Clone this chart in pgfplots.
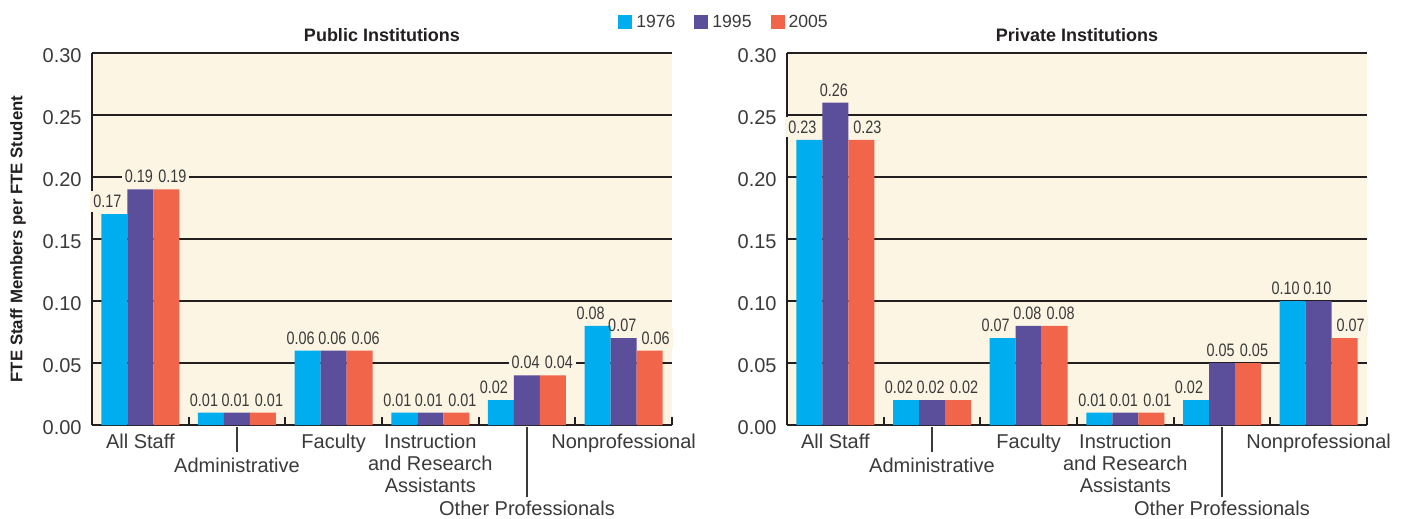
\documentclass[border=0pt]{standalone}
\usepackage{fontspec}
\setmainfont{Liberation Sans}
\newfontfamily\narrowfont[FakeStretch=0.8]{Liberation Sans}
\usepackage{pgfplots}
\usepackage{pgfplotstable}
\pgfplotsset{compat=1.18}
\definecolor{cA}{HTML}{00AEEF}
\definecolor{cB}{HTML}{5B4F9B}
\definecolor{cC}{HTML}{F1654B}
\definecolor{cream}{HTML}{FDF5E4}
\definecolor{dark}{HTML}{231F20}
\definecolor{tgray}{HTML}{3A3A3A}

\pgfplotstableread{
x a b c
0 0.17 0.19 0.19
1 0.01 0.01 0.01
2 0.06 0.06 0.06
3 0.01 0.01 0.01
4 0.02 0.04 0.04
5 0.08 0.07 0.06
}\publicdata

\pgfplotstableread{
x a b c
0 0.23 0.26 0.23
1 0.02 0.02 0.02
2 0.07 0.08 0.08
3 0.01 0.01 0.01
4 0.02 0.05 0.05
5 0.10 0.10 0.07
}\privatedata

\pgfplotsset{
  geom/.style={
    scale only axis, width=290pt, height=186pt,
    xmin=-0.5, xmax=5.5, ymin=0, ymax=0.3,
    clip=false,
    scaled y ticks=false,
    /pgf/number format/fixed,
    /pgf/number format/fixed zerofill,
    /pgf/number format/precision=2,
    /pgf/number format/assume math mode=true,
  },
  panel/.style={
    geom,
    axis lines*=left,
    axis line style={color=dark, line width=1pt},
    axis background/.style={fill=cream},
    ytick={0,0.05,0.1,0.15,0.2,0.25,0.3},
    yticklabel style={font=\fontsize{10}{12}\selectfont, text=tgray, inner sep=0pt, anchor=east, xshift=-5pt, yshift=-1.5pt},
    ymajorgrids, grid style={color=dark, line width=1pt},
    xtick={0,...,5},
    minor xtick={-0.5,0.5,...,5.5},
    major tick length=0pt, minor tick length=4pt, tick align=inside,
    tick style={color=dark, line width=1pt},
    xticklabel style={font=\fontsize{10}{11}\selectfont, text=tgray, align=center, anchor=north, inner sep=0pt, yshift=-1pt},
    xticklabels={
      {\rule{0pt}{10.5pt}All Staff},
      {\rule{0.7pt}{12.5pt}\\[-1pt]Administrative},
      {\rule{0pt}{10.5pt}Faculty},
      {\rule{0pt}{10.5pt}Instruction\\and Research\\Assistants},
      {\rule{0.7pt}{35pt}\\[-2pt]Other Professionals},
      {\rule{0pt}{10.5pt}Nonprofessional}},
    every axis title shift=0pt,
    title style={at={(0.5,1)}, anchor=base, yshift=6pt, font=\bfseries\fontsize{9}{11}\selectfont, text=dark},
  },
  halo/.style 2 args={ybar, bar width=13pt, bar shift=#1, draw=none, fill=none, forget plot,
    nodes near coords, point meta=y,
    every node near coord/.append style={font=\narrowfont\fontsize{9}{10}\selectfont, text=cream, anchor=south, inner xsep=1.5pt, inner ysep=2pt, yshift=1pt, xshift=#2, fill=cream}},
  mybar/.style n args={3}{ybar, bar width=13pt, bar shift=#1, draw=none, fill=#2,
    nodes near coords, point meta=y,
    every node near coord/.append style={font=\narrowfont\fontsize{9}{10}\selectfont, text=tgray, anchor=south, inner xsep=0pt, inner ysep=2pt, yshift=1pt, xshift=#3},
    legend image code/.code={\path[fill=#2] (0pt,-3.5pt) rectangle (7pt,3.5pt);}},
}

\begin{document}
\begin{tikzpicture}
\path[use as bounding box] (0,0) rectangle (704.5pt,-259.5pt);

% ---- Public: frame, grid and label halos
\begin{axis}[panel,
  at={(46pt,-212.5pt)}, anchor=south west,
  title={Public Institutions},
  ylabel={FTE Staff Members per FTE Student},
  ylabel style={at={(axis description cs:-0.1276,0.5)}, anchor=center, font=\bfseries\fontsize{8.4}{10}\selectfont, text=dark},
]
\addplot[halo={-13pt}{-16.5pt}] table[x=x,y=a] {\publicdata};
\addplot[halo={0pt}{-0.7pt}] table[x=x,y=b] {\publicdata};
\addplot[halo={13pt}{16pt}] table[x=x,y=c] {\publicdata};
\end{axis}
% ---- Public: bars and values
\begin{axis}[geom, hide axis,
  at={(46pt,-212.5pt)}, anchor=south west,
  legend style={at={(axis description cs:1.0914,1.082)}, anchor=center, draw=none, fill=none,
    legend columns=3, font=\fontsize{8.8}{10}\selectfont, text=tgray,
    /tikz/every even column/.append style={column sep=7.5pt}},
]
\addplot[mybar={-13pt}{cA}{-16.5pt}] table[x=x,y=a] {\publicdata};
\addlegendentry{1976}
\addplot[mybar={0pt}{cB}{-0.7pt}] table[x=x,y=b] {\publicdata};
\addlegendentry{1995}
\addplot[mybar={13pt}{cC}{16pt}] table[x=x,y=c] {\publicdata};
\addlegendentry{2005}
\end{axis}

% ---- Private: frame, grid and label halos
\begin{axis}[panel,
  at={(393.5pt,-212.5pt)}, anchor=south west,
  title={Private Institutions},
]
\addplot[halo={-13pt}{-16.5pt}] table[x=x,y=a] {\privatedata};
\addplot[halo={0pt}{-0.7pt}] table[x=x,y=b] {\privatedata};
\addplot[halo={13pt}{16pt}] table[x=x,y=c] {\privatedata};
\end{axis}
% ---- Private: bars and values
\begin{axis}[geom, hide axis,
  at={(393.5pt,-212.5pt)}, anchor=south west,
]
\addplot[mybar={-13pt}{cA}{-16.5pt}] table[x=x,y=a] {\privatedata};
\addplot[mybar={0pt}{cB}{-0.7pt}] table[x=x,y=b] {\privatedata};
\addplot[mybar={13pt}{cC}{16pt}] table[x=x,y=c] {\privatedata};
\end{axis}
\end{tikzpicture}
\end{document}
